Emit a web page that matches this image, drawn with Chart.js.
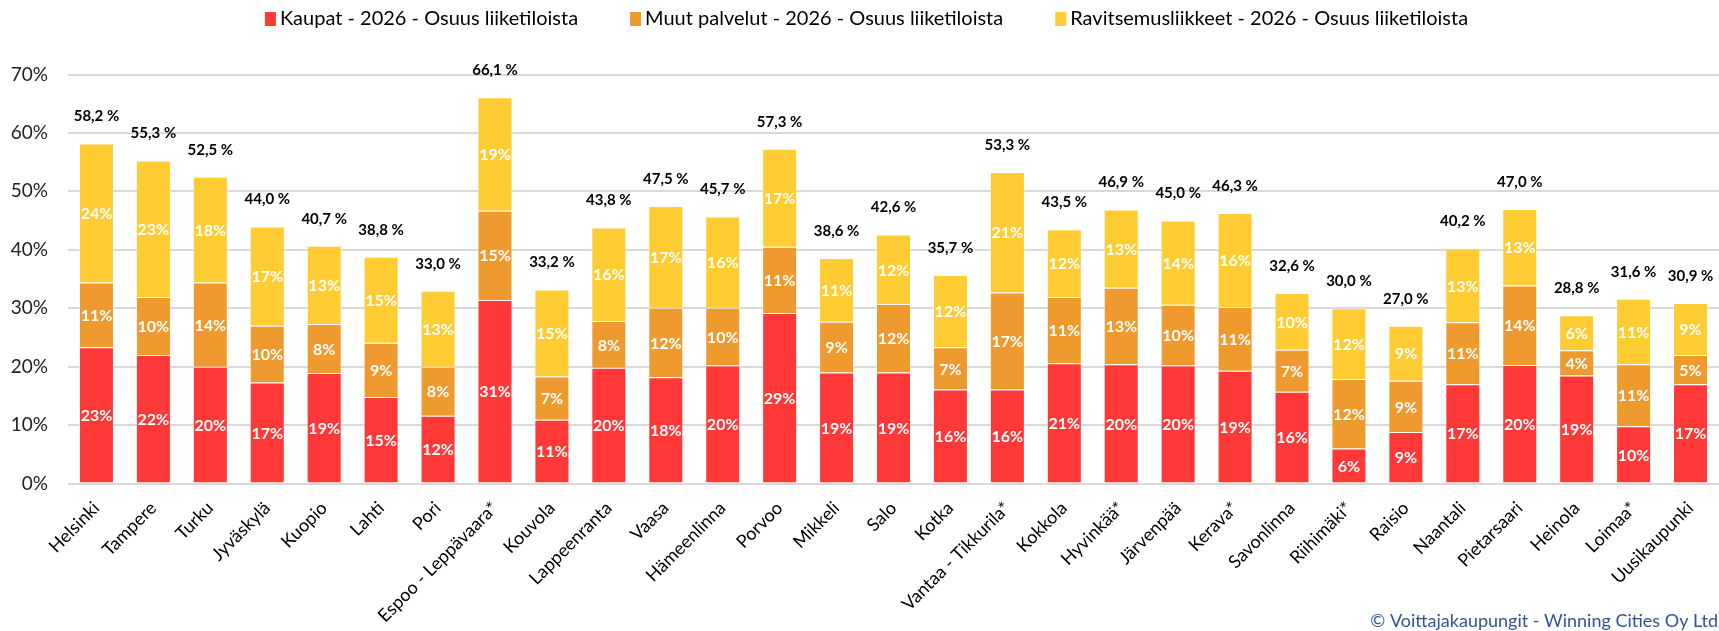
<!DOCTYPE html>
<html>
<head>
<meta charset="utf-8">
<script src="https://cdn.jsdelivr.net/npm/chart.js@4.4.1/dist/chart.umd.min.js"></script>
<style>
    html, body { margin: 0; padding: 0; background: #fff; }
    #wrap { width: 1719px; height: 631px; position: relative; }
</style>
</head>
<body>
<div id="wrap"><canvas id="chart"></canvas></div>
<script>
const categories = [
    'Helsinki', 'Tampere', 'Turku', 'Jyväskylä', 'Kuopio', 'Lahti', 'Pori',
    'Espoo - Leppävaara*', 'Kouvola', 'Lappeenranta', 'Vaasa', 'Hämeenlinna',
    'Porvoo', 'Mikkeli', 'Salo', 'Kotka', 'Vantaa - Tikkurila*', 'Kokkola',
    'Hyvinkää*', 'Järvenpää', 'Kerava*', 'Savonlinna', 'Riihimäki*', 'Raisio',
    'Naantali', 'Pietarsaari', 'Heinola', 'Loimaa*', 'Uusikaupunki'
];

// osuus liiketiloista, %
const kaupat = [23.3, 22.0, 20.0, 17.3, 18.9, 14.8, 11.6, 31.4, 10.9, 19.8,
    18.2, 20.2, 29.2, 19.0, 19.0, 16.1, 16.1, 20.6, 20.4, 20.2,
    19.3, 15.7, 6.0, 8.8, 17.0, 20.3, 18.5, 9.8, 17.0];
const muutPalvelut = [11.1, 9.9, 14.4, 9.7, 8.4, 9.3, 8.4, 15.3, 7.4, 8.0,
    11.9, 9.9, 11.3, 8.7, 11.7, 7.2, 16.6, 11.3, 13.1, 10.4,
    10.9, 7.2, 11.9, 8.8, 10.6, 13.6, 4.3, 10.6, 5.0];
const ravitsemus = [23.8, 23.4, 18.1, 17.0, 13.4, 14.7, 13.0, 19.4, 14.9, 16.0,
    17.4, 15.6, 16.8, 10.9, 11.9, 12.4, 20.6, 11.6, 13.4, 14.4,
    16.1, 9.7, 12.1, 9.4, 12.6, 13.1, 6.0, 11.2, 8.9];

const yTicks = [0, 10, 20, 30, 40, 50, 60, 70];

const FONT = 'Lato';
Chart.defaults.font.family = FONT;
Chart.defaults.color = '#000';

// legend, segment labels, totals above bars, copyright line
const labelPlugin = {
    id: 'barLabels',
    afterDatasetsDraw(chart) {
        const ctx = chart.ctx;
        ctx.save();
        ctx.textAlign = 'center';
        ctx.textBaseline = 'middle';
        ctx.font = 'bold 16px ' + FONT;
        ctx.fillStyle = '#fff';
        chart.data.datasets.forEach((ds, di) => {
            chart.getDatasetMeta(di).data.forEach((bar, i) => {
                ctx.fillText(Math.round(ds.data[i]) + '%', bar.x, (bar.y + bar.base) / 2 + 1);
            });
        });

        ctx.font = 'bold 15px ' + FONT;
        ctx.fillStyle = '#000';
        chart.getDatasetMeta(2).data.forEach((bar, i) => {
            const total = kaupat[i] + muutPalvelut[i] + ravitsemus[i];
            ctx.fillText(total.toFixed(1).replace('.', ',') + ' %', bar.x, bar.y - 27);
        });

        // legend
        ctx.font = '20px ' + FONT;
        ctx.textAlign = 'left';
        const box = 11, gap = 4, spacing = 52;
        const items = chart.data.datasets.map(ds => ({
            text: ds.label, color: ds.backgroundColor, w: ctx.measureText(ds.label).width
        }));
        const total = items.reduce((s, it) => s + box + gap + it.w, 0) + spacing * (items.length - 1);
        let x = chart.width / 2 + 7 - total / 2;
        items.forEach(it => {
            ctx.fillStyle = it.color;
            ctx.fillRect(x, 12, box, 14);
            ctx.fillStyle = '#000';
            ctx.fillText(it.text, x + box + gap, 19);
            x += box + gap + it.w + spacing;
        });

        ctx.textAlign = 'right';
        ctx.font = '18px ' + FONT;
        ctx.fillStyle = '#2F5597';
        ctx.fillText('© Voittajakaupungit - Winning Cities Oy Ltd', chart.width - 1, 621);
        ctx.restore();
    }
};

new Chart(document.getElementById('chart'), {
    type: 'bar',
    data: {
        labels: categories,
        datasets: [{
            label: 'Kaupat - 2026 - Osuus liiketiloista',
            data: kaupat,
            backgroundColor: '#FF3838',
            borderColor: 'rgba(255,255,255,0.35)'
        }, {
            label: 'Muut palvelut - 2026 - Osuus liiketiloista',
            data: muutPalvelut,
            backgroundColor: '#EF9A2F',
            borderColor: 'rgba(255,255,255,0.35)'
        }, {
            label: 'Ravitsemusliikkeet - 2026 - Osuus liiketiloista',
            data: ravitsemus,
            backgroundColor: '#FFCC33',
            borderColor: 'rgba(255,255,255,0.35)'
        }]
    },
    options: {
        responsive: true,
        maintainAspectRatio: false,
        animation: false,
        layout: {
            padding: { left: 8, right: 0, top: 74.5, bottom: 0 }
        },
        datasets: {
            bar: {
                barPercentage: 0.615,
                categoryPercentage: 1,
                borderWidth: 1
            }
        },
        scales: {
            x: {
                stacked: true,
                grid: { display: false },
                border: { display: false },
                afterFit: (scale) => {
                    scale.height = 147.5;
                    scale.paddingLeft = 0;
                    scale.paddingRight = 0;
                },
                ticks: {
                    minRotation: 45,
                    maxRotation: 45,
                    autoSkip: false,
                    padding: 6,
                    font: { size: 18 },
                    color: '#000'
                }
            },
            y: {
                stacked: true,
                min: 0,
                max: 70,
                afterBuildTicks: (axis) => {
                    axis.ticks = yTicks.map(v => ({ value: v }));
                },
                afterFit: (scale) => {
                    scale.width = 60;
                    scale.paddingTop = 0;
                    scale.paddingBottom = 0;
                },
                grid: { color: '#D9D9D9', lineWidth: 2, drawTicks: false },
                border: { display: false },
                ticks: {
                    padding: 20,
                    font: { size: 19 },
                    color: '#222',
                    callback: (v) => v + '%'
                }
            }
        },
        plugins: {
            legend: { display: false },
            tooltip: { enabled: false }
        }
    },
    plugins: [labelPlugin]
});
</script>
</body>
</html>
